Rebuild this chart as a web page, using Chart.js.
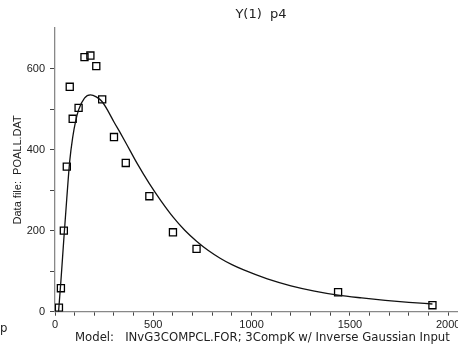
<!DOCTYPE html>
<html><head><meta charset="utf-8">
<script src="https://cdn.jsdelivr.net/npm/chart.js@4"></script>
<style>html,body{margin:0;padding:0;background:#fff}#wrap{width:458px;height:351px}</style>
</head><body><div id="wrap"><canvas id="c" width="458" height="351"></canvas></div>
<script>
const chartTitle = 'Y(1)  p4';
const xAxisTitle = 'Model:   INvG3COMPCL.FOR; 3CompK w/ Inverse Gaussian Input';
const yAxisTitle = 'Data file:  POALL.DAT';
const obsTimes = [20, 30, 45, 60, 75, 90, 120, 150, 180, 210, 240, 300, 360, 480, 600, 720, 1440, 1920];
const obsValues = [10, 58, 200, 358, 555, 476, 503, 628, 632, 606, 524, 431, 367, 285, 196, 155, 48, 16];
const fitTimes = [18, 30, 45, 60, 75, 90, 105, 120, 150, 180, 210, 240, 270, 300, 330, 360, 420, 480, 540, 600, 660, 720, 780, 840, 900, 960, 1080, 1200, 1320, 1440, 1560, 1680, 1800, 1920];
const fitValues = [0, 75, 180, 280, 372, 430, 470, 498, 527, 535, 530, 518, 495, 468, 443, 417, 364, 316, 273, 234, 201, 174, 151, 132, 116, 103, 81, 64, 51, 41, 34, 28, 23, 19];
const xMajorTicks = [0, 500, 1000, 1500, 2000];
const yMajorTicks = [0, 200, 400, 600];

const toXY = (xs, ys) => xs.map((x, i) => ({x: x, y: ys[i]}));

const textPlugin = {
  id: 'extraText',
  afterDraw(chart) {
    const ctx = chart.ctx;
    ctx.save();
    ctx.fillStyle = '#222';
    ctx.font = '13px "DejaVu Sans"';
    ctx.textAlign = 'center';
    ctx.textBaseline = 'middle';
    ctx.fillText(chartTitle, 261, 15);
    ctx.font = '11.7px "DejaVu Sans"';
    ctx.textAlign = 'left';
    ctx.fillText(xAxisTitle, 75, 338);
    ctx.fillText('p', 0, 329);
    ctx.restore();
  }
};

new Chart(document.getElementById('c'), {
  data: {
    datasets: [
      {
        type: 'line',
        data: toXY(fitTimes, fitValues),
        borderColor: '#111',
        borderWidth: 1.3,
        pointRadius: 0,
        fill: false,
        cubicInterpolationMode: 'monotone'
      },
      {
        type: 'scatter',
        data: toXY(obsTimes, obsValues),
        pointStyle: 'rect',
        pointRadius: 5,
        pointHoverRadius: 5,
        borderColor: '#000',
        borderWidth: 1.3,
        backgroundColor: 'rgba(0,0,0,0)',
        showLine: false
      }
    ]
  },
  options: {
    responsive: false,
    animation: false,
    devicePixelRatio: 1,
    layout: {autoPadding: false, padding: {top: 28, right: 0, bottom: 0, left: 0}},
    plugins: {legend: {display: false}, tooltip: {enabled: false}, title: {display: false}},
    scales: {
      x: {
        type: 'linear',
        min: 0,
        max: 2050,
        afterFit(s) { s.height = 39.3; s.paddingLeft = 0; s.paddingRight = 0; },
        afterBuildTicks(s) { s.ticks = []; for (let v = 0; v <= 2000; v += 100) s.ticks.push({value: v}); },
        ticks: {
          autoSkip: false,
          maxRotation: 0,
          padding: 3,
          color: '#222',
          font: {family: '"Liberation Sans"', size: 11},
          callback: v => xMajorTicks.includes(v) ? String(v) : ''
        },
        grid: {drawOnChartArea: false, drawTicks: true, tickLength: 4, tickColor: '#444'},
        border: {color: '#888', width: 1.3}
      },
      y: {
        type: 'linear',
        min: 0,
        max: 700,
        afterFit(s) { s.width = 55; s.paddingTop = 0; s.paddingBottom = 0; },
        afterBuildTicks(s) { s.ticks = []; for (let v = 0; v <= 600; v += 100) s.ticks.push({value: v}); },
        ticks: {
          autoSkip: false,
          padding: 5,
          color: '#222',
          font: {family: '"Liberation Sans"', size: 11},
          callback: v => yMajorTicks.includes(v) ? String(v) : ''
        },
        grid: {drawOnChartArea: false, drawTicks: true, tickLength: 5, tickColor: '#444'},
        border: {color: '#888', width: 1.3},
        title: {display: true, text: yAxisTitle, color: '#222', font: {family: '"Liberation Sans"', size: 11}, padding: {top: 11, bottom: 0}}
      }
    }
  },
  plugins: [textPlugin]
});
</script></body></html>
